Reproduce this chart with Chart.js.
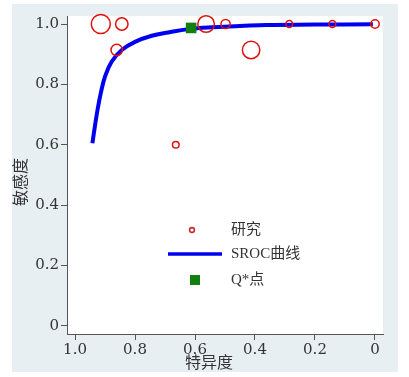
<!DOCTYPE html>
<html>
<head>
<meta charset="utf-8">
<script src="https://cdn.jsdelivr.net/npm/chart.js@4"></script>
<style>
  html, body { margin: 0; padding: 0; background: #fff; }
  #wrap { width: 409px; height: 377px; }
</style>
</head>
<body>
<div id="wrap"><canvas id="srocCanvas" width="409" height="377"></canvas></div>
<script>
// studies: specificity (x), sensitivity (y), bubble size (study weight)
const studySpec = [0.914, 0.844, 0.861, 0.563, 0.498, 0.413, 0.286, 0.142, 0.0, 0.664];
const studySens = [1.0, 1.0, 0.914, 1.0, 1.0, 0.914, 1.0, 1.0, 1.0, 0.600];
const studySize = [9.5, 6.2, 5.7, 8.3, 4.6, 8.7, 3.4, 3.4, 4.2, 3.3];

// SROC curve
const srocSpec = [0.942, 0.933, 0.924, 0.913, 0.900, 0.878, 0.844, 0.800, 0.744, 0.689, 0.622, 0.544, 0.450, 0.361, 0.200, 0.007];
const srocSens = [0.605, 0.666, 0.721, 0.776, 0.826, 0.875, 0.914, 0.941, 0.961, 0.972, 0.983, 0.989, 0.993, 0.997, 0.998, 0.999];

// Q* point
const qSpec = [0.613];
const qSens = [0.987];

const tickValues = [0, 0.2, 0.4, 0.6, 0.8, 1.0];
const xTickLabels = ['0', '0.2', '0.4', '0.6', '0.8', '1.0'];
const yTickLabels = ['0', '0.2', '0.4', '0.6', '0.8', '1.0'];

const legendLabels = ['研究', 'SROC曲线', 'Q*点'];
const xTitle = '特异度';
const yTitle = '敏感度';

const tickFont = "'DejaVu Serif', 'Liberation Serif', serif";
const cjk = "'Liberation Serif', 'Noto Sans CJK SC', serif";
const axisColor = '#555';
const textColor = '#333';

const panelPlugin = {
  id: 'panel',
  beforeDraw(chart) {
    const { ctx, chartArea: a } = chart;
    ctx.save();
    ctx.fillStyle = '#fff';
    ctx.fillRect(0, 0, chart.width, chart.height);
    ctx.fillStyle = '#e8eff2';
    ctx.fillRect(12, 4, 386, 368);
    ctx.fillStyle = '#fff';
    ctx.fillRect(a.left, a.top, a.right - a.left, a.bottom - a.top);
    ctx.restore();
  },
  afterDraw(chart) {
    const { ctx } = chart;
    ctx.save();
    // axis titles
    ctx.fillStyle = textColor;
    ctx.font = '16px ' + cjk;
    ctx.textAlign = 'center';
    ctx.textBaseline = 'middle';
    ctx.fillText(xTitle, 209, 364);
    ctx.translate(22, 182);
    ctx.rotate(-Math.PI / 2);
    ctx.fillText(yTitle, 0, 0);
    ctx.restore();

    // legend
    ctx.save();
    ctx.font = '15px ' + cjk;
    ctx.fillStyle = textColor;
    ctx.textAlign = 'left';
    ctx.textBaseline = 'middle';
    // study marker
    ctx.beginPath();
    ctx.arc(192, 230, 2.4, 0, Math.PI * 2);
    ctx.strokeStyle = '#c03030';
    ctx.lineWidth = 1.6;
    ctx.stroke();
    ctx.fillText(legendLabels[0], 231, 230);
    // curve
    ctx.beginPath();
    ctx.moveTo(168, 254);
    ctx.lineTo(222, 254);
    ctx.strokeStyle = '#0000f0';
    ctx.lineWidth = 3.5;
    ctx.stroke();
    ctx.fillText(legendLabels[1], 231, 254);
    // Q* square
    ctx.fillStyle = '#118011';
    ctx.fillRect(190, 275, 10, 10);
    ctx.fillStyle = textColor;
    ctx.fillText(legendLabels[2], 231, 280);
    ctx.restore();
  }
};

const ctx = document.getElementById('srocCanvas').getContext('2d');
new Chart(ctx, {
  type: 'bubble',
  data: {
    datasets: [
      {
        type: 'scatter',
        label: legendLabels[2],
        data: qSpec.map((x, i) => ({ x: x, y: qSens[i] })),
        pointStyle: 'rect',
        pointRadius: 7.5,
        backgroundColor: '#118011',
        borderWidth: 0,
        order: 0,
        clip: false
      },
      {
        label: legendLabels[0],
        data: studySpec.map((x, i) => ({ x: x, y: studySens[i], r: studySize[i] })),
        backgroundColor: 'rgba(0,0,0,0)',
        borderColor: '#e01010',
        borderWidth: 1.5,
        order: 1,
        clip: false
      },
      {
        type: 'line',
        label: legendLabels[1],
        data: srocSpec.map((x, i) => ({ x: x, y: srocSens[i] })),
        borderColor: '#0000f0',
        borderWidth: 4,
        pointRadius: 0,
        tension: 0.4,
        fill: false,
        order: 2,
        clip: false
      }
    ]
  },
  options: {
    responsive: false,
    animation: false,
    events: [],
    layout: { padding: { top: 16, right: 26, left: 0, bottom: 0 } },
    plugins: {
      legend: { display: false },
      tooltip: { enabled: false }
    },
    scales: {
      x: {
        type: 'linear',
        reverse: true,
        min: -0.0267,
        max: 1.0267,
        afterBuildTicks: (scale) => { scale.ticks = tickValues.map(v => ({ value: v })); },
        afterFit: (scale) => { scale.height = 43; },
        ticks: {
          color: textColor,
          font: { size: 15, family: tickFont },
          padding: 1,
          maxRotation: 0,
          callback: (value) => xTickLabels[tickValues.indexOf(value)]
        },
        grid: { drawOnChartArea: false, drawTicks: true, tickLength: 6, color: axisColor },
        border: { display: true, color: axisColor, width: 1 }
      },
      y: {
        type: 'linear',
        min: -0.0265,
        max: 1.0265,
        afterBuildTicks: (scale) => { scale.ticks = tickValues.map(v => ({ value: v })); },
        afterFit: (scale) => { scale.width = 67; },
        ticks: {
          color: textColor,
          font: { size: 15, family: tickFont },
          padding: 2,
          callback: (value) => yTickLabels[tickValues.indexOf(value)]
        },
        grid: { drawOnChartArea: false, drawTicks: true, tickLength: 6, color: axisColor },
        border: { display: true, color: axisColor, width: 1 }
      }
    }
  },
  plugins: [panelPlugin]
});
</script>
</body>
</html>
